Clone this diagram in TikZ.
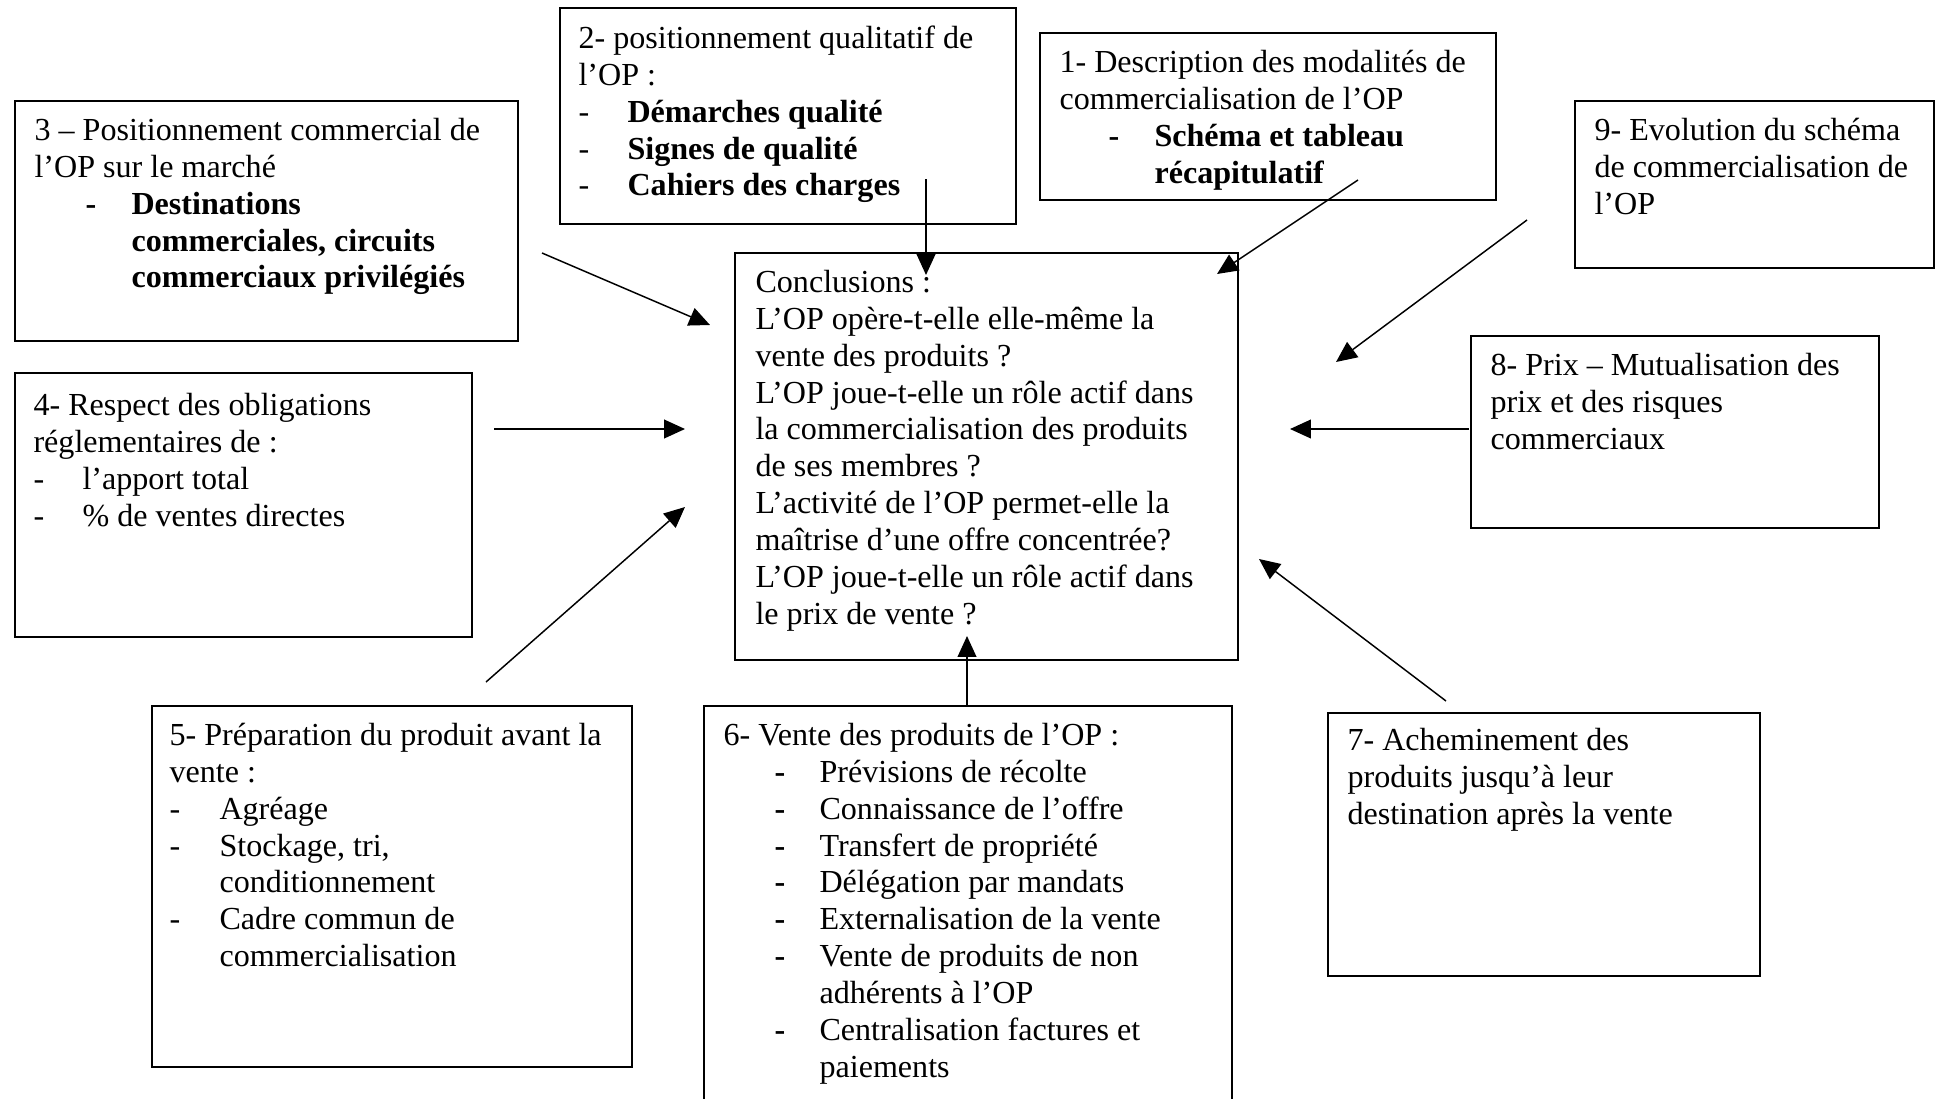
\documentclass[tikz,border=0pt]{standalone}
\usepackage{fontspec}
\setmainfont{Liberation Serif}
\usetikzlibrary{arrows.meta}
\newdimen\px \px=0.374pt
\newcommand\dsh[1]{\makebox[#1\px][l]{-}}
\newcommand\bdsh[1]{\makebox[#1\px][l]{\textbf{-}}}
\begin{document}
\begin{tikzpicture}[x=0.374pt,y=-0.374pt,
  box/.style 2 args={draw, line width=0.75pt, inner sep=0pt, anchor=north west,
    minimum width=#1*0.374pt, minimum height=#2*0.374pt},
  txt/.style={inner sep=0pt, anchor=north west, align=left,
    font=\fontsize{12pt}{13.8pt}\selectfont},
  arr/.style={line width=0.55pt, -{Triangle[length=7.8pt,width=7pt]}}]
\useasboundingbox (0,0) rectangle (1939,1098);
\clip (0,0) rectangle (1939,1098);
\fill[white] (0,0) rectangle (1939,1098);

% boxes
\node[box={456}{216}] (b2) at (559,7) {};
\node[box={456}{167}] (b1) at (1039,32) {};
\node[box={503}{240}] (b3) at (14,100) {};
\node[box={359}{167}] (b9) at (1574,100) {};
\node[box={503}{407}] (bc) at (734,252) {};
\node[box={457}{264}] (b4) at (14,372) {};
\node[box={408}{192}] (b8) at (1470,335) {};
\node[box={480}{361}] (b5) at (151,705) {};
\node[box={528}{450}] (b6) at (703,705) {};
\node[box={432}{263}] (b7) at (1327,712) {};

% texts (north = first baseline - 25.8)
\node[txt] (t2) at (578,22) {\strut 2- positionnement qualitatif de\\ l’OP :\\
  \dsh{49}\textbf{Démarches qualité}\\ \dsh{49}\textbf{Signes de qualité}\\
  \dsh{49}\textbf{Cahiers des charges}};
\node[txt] (t1) at (1059,46) {\strut 1- Description des modalités de\\ commercialisation de l’OP\\
  \hspace*{49\px}\bdsh{46}\textbf{Schéma et tableau}\\ \hspace*{95\px}\textbf{récapitulatif}};
\node[txt] (t3) at (34,114) {\strut 3 – Positionnement commercial de\\ l’OP sur le marché\\
  \hspace*{51\px}\bdsh{46}\textbf{Destinations}\\ \hspace*{97\px}\textbf{commerciales, circuits}\\
  \hspace*{97\px}\textbf{commerciaux privilégiés}};
\node[txt] (t9) at (1594,114) {\strut 9- Evolution du schéma\\ de commercialisation de\\ l’OP};
\node[txt] (tc) at (755,266) {\strut Conclusions :\\ L’OP opère-t-elle elle-même la\\
  vente des produits ?\\ L’OP joue-t-elle un rôle actif dans\\ la commercialisation des produits\\
  de ses membres ?\\ L’activité de l’OP permet-elle la\\ maîtrise d’une offre concentrée?\\
  L’OP joue-t-elle un rôle actif dans\\ le prix de vente ?};
\node[txt] (t4) at (33,389) {\strut 4- Respect des obligations\\ réglementaires de :\\
  \dsh{49}l’apport total\\ \dsh{49}\% de ventes directes};
\node[txt] (t8) at (1490,349) {\strut 8- Prix – Mutualisation des\\ prix et des risques\\ commerciaux};
\node[txt] (t5) at (169,719) {\strut 5- Préparation du produit avant la\\ vente :\\
  \dsh{50}Agréage\\ \dsh{50}Stockage, tri,\\ \hspace*{50\px}conditionnement\\
  \dsh{50}Cadre commun de\\ \hspace*{50\px}commercialisation};
\node[txt] (t6) at (723,719) {\strut 6- Vente des produits de l’OP :\\
  \hspace*{51\px}\bdsh{45}Prévisions de récolte\\
  \hspace*{51\px}\bdsh{45}Connaissance de l’offre\\
  \hspace*{51\px}\bdsh{45}Transfert de propriété\\
  \hspace*{51\px}\bdsh{45}Délégation par mandats\\
  \hspace*{51\px}\bdsh{45}Externalisation de la vente\\
  \hspace*{51\px}\bdsh{45}Vente de produits de non\\
  \hspace*{96\px}adhérents à l’OP\\
  \hspace*{51\px}\bdsh{45}Centralisation factures et\\
  \hspace*{96\px}paiements};
\node[txt] (t7) at (1347,724) {\strut 7- Acheminement des\\ produits jusqu’à leur\\ destination après la vente};

% arrow end points
\coordinate (a3s) at (542,253);  \coordinate (a3e) at (710,325);
\coordinate (a2s) at (926,179);  \coordinate (a2e) at (926,275);
\coordinate (a1s) at (1358,180); \coordinate (a1e) at (1217,274);
\coordinate (a9s) at (1527,220); \coordinate (a9e) at (1336,362);
\coordinate (a4s) at (494,429);  \coordinate (a4e) at (685,429);
\coordinate (a8s) at (1469,429); \coordinate (a8e) at (1290,429);
\coordinate (a5s) at (486,682);  \coordinate (a5e) at (685,507);
\coordinate (a6s) at (967,705);  \coordinate (a6e) at (967,636);
\coordinate (a7s) at (1446,701); \coordinate (a7e) at (1259,559);

\draw[arr] (a3s) -- (a3e);
\draw[arr] (a2s) -- (a2e);
\draw[arr] (a1s) -- (a1e);
\draw[arr] (a9s) -- (a9e);
\draw[arr] (a4s) -- (a4e);
\draw[arr] (a8s) -- (a8e);
\draw[arr] (a5s) -- (a5e);
\draw[arr] (a6s) -- (a6e);
\draw[arr] (a7s) -- (a7e);
\end{tikzpicture}
\end{document}
